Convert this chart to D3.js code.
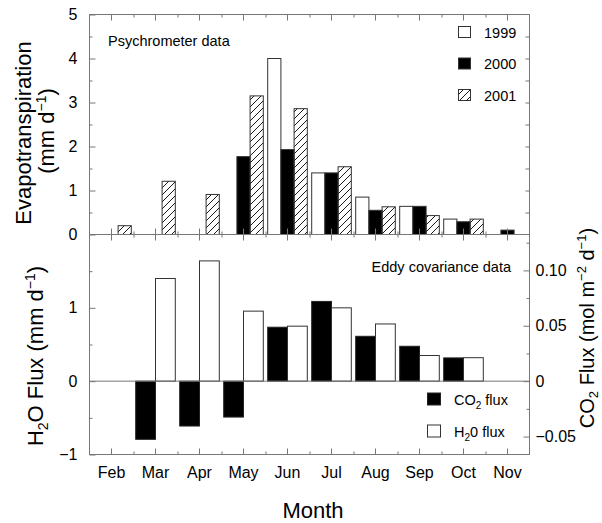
<!DOCTYPE html>
<html>
<head>
<meta charset="utf-8">
<script src="https://cdn.jsdelivr.net/npm/d3@7"></script>
<style>
html,body{margin:0;padding:0;background:#fff;}
svg{display:block;font-family:"Liberation Sans",Arial,Helvetica,sans-serif;}
</style>
</head>
<body>
<svg id="chart" width="602" height="523"></svg>
<script>
// ---------- data ----------
const months = ["Feb","Mar","Apr","May","Jun","Jul","Aug","Sep","Oct","Nov"];
const years = ["1999","2000","2001"];
const et1999 = [null,null,null,null,4.0,1.4,0.85,0.64,0.35,null];
const et2000 = [null,null,null,1.77,1.93,1.4,0.55,0.64,0.29,0.1];
const et2001 = [0.2,1.21,0.91,3.15,2.86,1.54,0.63,0.43,0.35,null];
const co2Flux = [null,-0.0525,-0.0405,-0.0324,0.0487,0.072,0.0405,0.0315,0.021,null];
const h2oFlux = [null,1.40,1.64,0.955,0.75,1.0,0.78,0.35,0.32,null];
const etTicks = [0,1,2,3,4,5];
const h2oTicks = [-1,0,1];
const co2Ticks = [-0.05,0,0.05,0.10];

// ---------- layout ----------
const svg = d3.select("#chart");
const L = 89.5, R = 529.5, T = 14.5, MID = 234.5, B = 454.5;
const axisColor = "#777";

const x = d3.scaleBand().domain(months).range([L, R]).padding(0);
const xi = d3.scaleLinear().domain([-0.5, months.length - 0.5]).range([L, R]);
const yTop = d3.scaleLinear().domain([0, 5]).range([MID, T]);
const yH2O = d3.scaleLinear().domain([-1, 2]).range([B, MID]);
const yCO2 = d3.scaleLinear().domain([-0.0662, 0.1324]).range([B, MID]);

// hatch pattern
const defs = svg.append("defs");
defs.append("pattern").attr("id","hatch").attr("patternUnits","userSpaceOnUse")
  .attr("width",7).attr("height",7)
  .append("path").attr("d","M-1,1 l2,-2 M0,7 l7,-7 M6,8 l2,-2")
  .attr("stroke","#000").attr("stroke-width",0.9);

// ---------- top panel bars ----------
const bwTop = x.bandwidth() * 0.3;
const topSeries = [
  {vals: et1999, off: -1.5, fill: "#fff"},
  {vals: et2000, off: -0.5, fill: "#000"},
  {vals: et2001, off: 0.5, fill: "url(#hatch)"}
];
topSeries.forEach(s => {
  const d = months.map((m, i) => ({m, v: s.vals[i]})).filter(e => e.v != null);
  svg.append("g").selectAll("rect").data(d).join("rect")
    .attr("x", e => x(e.m) + x.bandwidth()/2 + s.off * bwTop)
    .attr("width", bwTop)
    .attr("y", e => yTop(e.v))
    .attr("height", e => yTop(0) - yTop(e.v))
    .attr("fill", s.fill)
    .attr("stroke", "#333").attr("stroke-width", 1);
});

// ---------- bottom panel bars ----------
const bwBot = x.bandwidth() * 0.45;
const dCO2 = months.map((m, i) => ({m, v: co2Flux[i]})).filter(e => e.v != null);
const dH2O = months.map((m, i) => ({m, v: h2oFlux[i]})).filter(e => e.v != null);
svg.append("g").selectAll("rect").data(dCO2).join("rect")
  .attr("x", e => x(e.m) + x.bandwidth()/2 - bwBot)
  .attr("width", bwBot)
  .attr("y", e => Math.min(yCO2(e.v), yCO2(0)))
  .attr("height", e => Math.abs(yCO2(e.v) - yCO2(0)))
  .attr("fill", "#000").attr("stroke", "#222").attr("stroke-width", 1);
svg.append("g").selectAll("rect").data(dH2O).join("rect")
  .attr("x", e => x(e.m) + x.bandwidth()/2)
  .attr("width", bwBot)
  .attr("y", e => Math.min(yH2O(e.v), yH2O(0)))
  .attr("height", e => Math.abs(yH2O(e.v) - yH2O(0)))
  .attr("fill", "#fff").attr("stroke", "#333").attr("stroke-width", 1);

// zero line bottom panel
svg.append("line").attr("x1", L).attr("x2", R).attr("y1", yH2O(0)).attr("y2", yH2O(0))
  .attr("stroke", axisColor).attr("stroke-width", 1);

// ---------- axes ----------
function addAxis(gen, tx, ty, fontSize) {
  const g = svg.append("g").attr("transform", `translate(${tx},${ty})`).call(gen);
  g.select(".domain").remove();
  g.selectAll("line").attr("stroke", axisColor);
  g.selectAll("text").attr("fill", "#000").style("font-size", (fontSize || 16) + "px")
    .style("font-family", "'Liberation Sans', Arial, sans-serif");
  return g;
}
const noLab = () => "";
const minorX = d3.range(0.5, months.length - 1, 1);

// top panel
addAxis(d3.axisLeft(yTop).tickValues(etTicks).tickSize(-6).tickPadding(12).tickFormat(d3.format("d")), L, 0);
addAxis(d3.axisLeft(yTop).tickValues(d3.range(0.5, 5, 1)).tickSize(-3).tickFormat(noLab), L, 0);
addAxis(d3.axisRight(yTop).tickValues(d3.range(0.5, 5, 0.5)).tickSize(-4).tickFormat(noLab), R, 0);
addAxis(d3.axisTop(x).tickSize(-6).tickFormat(noLab), 0, T);
addAxis(d3.axisTop(xi).tickValues(minorX).tickSize(-3).tickFormat(noLab), 0, T);
addAxis(d3.axisBottom(x).tickSize(-6).tickFormat(noLab), 0, MID);
addAxis(d3.axisBottom(xi).tickValues(minorX).tickSize(-3).tickFormat(noLab), 0, MID);

// bottom panel
addAxis(d3.axisTop(x).tickSize(-6).tickFormat(noLab), 0, MID);
addAxis(d3.axisTop(xi).tickValues(minorX).tickSize(-3).tickFormat(noLab), 0, MID);
addAxis(d3.axisBottom(x).tickSize(-6).tickPadding(12), 0, B);
addAxis(d3.axisBottom(xi).tickValues(minorX).tickSize(-3).tickFormat(noLab), 0, B);
addAxis(d3.axisLeft(yH2O).tickValues(h2oTicks).tickSize(-6).tickPadding(12).tickFormat(d3.format("d")), L, 0);
addAxis(d3.axisLeft(yH2O).tickValues([-0.5, 0.5, 1.5]).tickSize(-3).tickFormat(noLab), L, 0);
addAxis(d3.axisRight(yCO2).tickValues(co2Ticks).tickSize(-6).tickPadding(6)
  .tickFormat(d => d === 0 ? "0" : d3.format(".2f")(d)), R, 0);
addAxis(d3.axisRight(yCO2).tickValues([-0.025, 0.025, 0.075, 0.125]).tickSize(-3).tickFormat(noLab), R, 0);

// frames
svg.append("rect").attr("x", L).attr("y", T).attr("width", R - L).attr("height", MID - T)
  .attr("fill", "none").attr("stroke", axisColor).attr("stroke-width", 1);
svg.append("rect").attr("x", L).attr("y", MID).attr("width", R - L).attr("height", B - MID)
  .attr("fill", "none").attr("stroke", axisColor).attr("stroke-width", 1);

// ---------- annotations ----------
svg.append("text").attr("x", 108).attr("y", 46).style("font-size", "14.5px").text("Psychrometer data");
svg.append("text").attr("x", 511).attr("y", 272).attr("text-anchor", "end").style("font-size", "14.5px").text("Eddy covariance data");

// top legend
const legFills = ["#fff", "#000", "url(#hatch)"];
const lg = svg.append("g");
years.forEach((yr, i) => {
  const cy = 32 + i * 31.5;
  lg.append("rect").attr("x", 458.5).attr("y", cy - 5.5).attr("width", 12).attr("height", 11)
    .attr("fill", legFills[i]).attr("stroke", "#333").attr("stroke-width", 1);
  lg.append("text").attr("x", 484).attr("y", cy + 5.5).style("font-size", "14.5px").text(yr);
});

// bottom legend
const bl = svg.append("g");
bl.append("rect").attr("x", 427.5).attr("y", 393).attr("width", 13).attr("height", 12)
  .attr("fill", "#000").attr("stroke", "#222");
const t1 = bl.append("text").attr("x", 454).attr("y", 405).style("font-size", "14.5px");
t1.append("tspan").text("CO");
t1.append("tspan").attr("dy", 4).style("font-size", "10px").text("2");
t1.append("tspan").attr("dy", -4).text(" flux");
bl.append("rect").attr("x", 427.5).attr("y", 425).attr("width", 13).attr("height", 12)
  .attr("fill", "#fff").attr("stroke", "#333");
const t2 = bl.append("text").attr("x", 454).attr("y", 437).style("font-size", "14.5px");
t2.append("tspan").text("H");
t2.append("tspan").attr("dy", 4).style("font-size", "10px").text("2");
t2.append("tspan").attr("dy", -4).text("0 flux");

// ---------- axis titles ----------
svg.append("text").attr("transform", "translate(31,133) rotate(-90)").attr("text-anchor", "middle")
  .style("font-size", "22px").text("Evapotranspiration");
const ev2 = svg.append("text").attr("transform", "translate(54,131) rotate(-90)").attr("text-anchor", "middle")
  .style("font-size", "22px");
ev2.append("tspan").text("(mm d");
ev2.append("tspan").attr("dy", -8).style("font-size", "14px").text("−1");
ev2.append("tspan").attr("dy", 8).text(")");

const h2 = svg.append("text").attr("transform", "translate(43,356) rotate(-90)").attr("text-anchor", "middle")
  .style("font-size", "22px");
h2.append("tspan").text("H");
h2.append("tspan").attr("dy", 5).style("font-size", "14px").text("2");
h2.append("tspan").attr("dy", -5).text("O Flux (mm d");
h2.append("tspan").attr("dy", -8).style("font-size", "14px").text("−1");
h2.append("tspan").attr("dy", 8).text(")");

const c2 = svg.append("text").attr("transform", "translate(594,328) rotate(-90)").attr("text-anchor", "middle")
  .style("font-size", "20px");
c2.append("tspan").text("CO");
c2.append("tspan").attr("dy", 4).style("font-size", "13px").text("2");
c2.append("tspan").attr("dy", -4).text(" Flux (mol m");
c2.append("tspan").attr("dy", -8).style("font-size", "13px").text("−2");
c2.append("tspan").attr("dy", 8).text(" d");
c2.append("tspan").attr("dy", -8).style("font-size", "13px").text("−1");
c2.append("tspan").attr("dy", 8).text(")");

svg.append("text").attr("x", 313).attr("y", 518).attr("text-anchor", "middle")
  .style("font-size", "22px").text("Month");
</script>
</body>
</html>
